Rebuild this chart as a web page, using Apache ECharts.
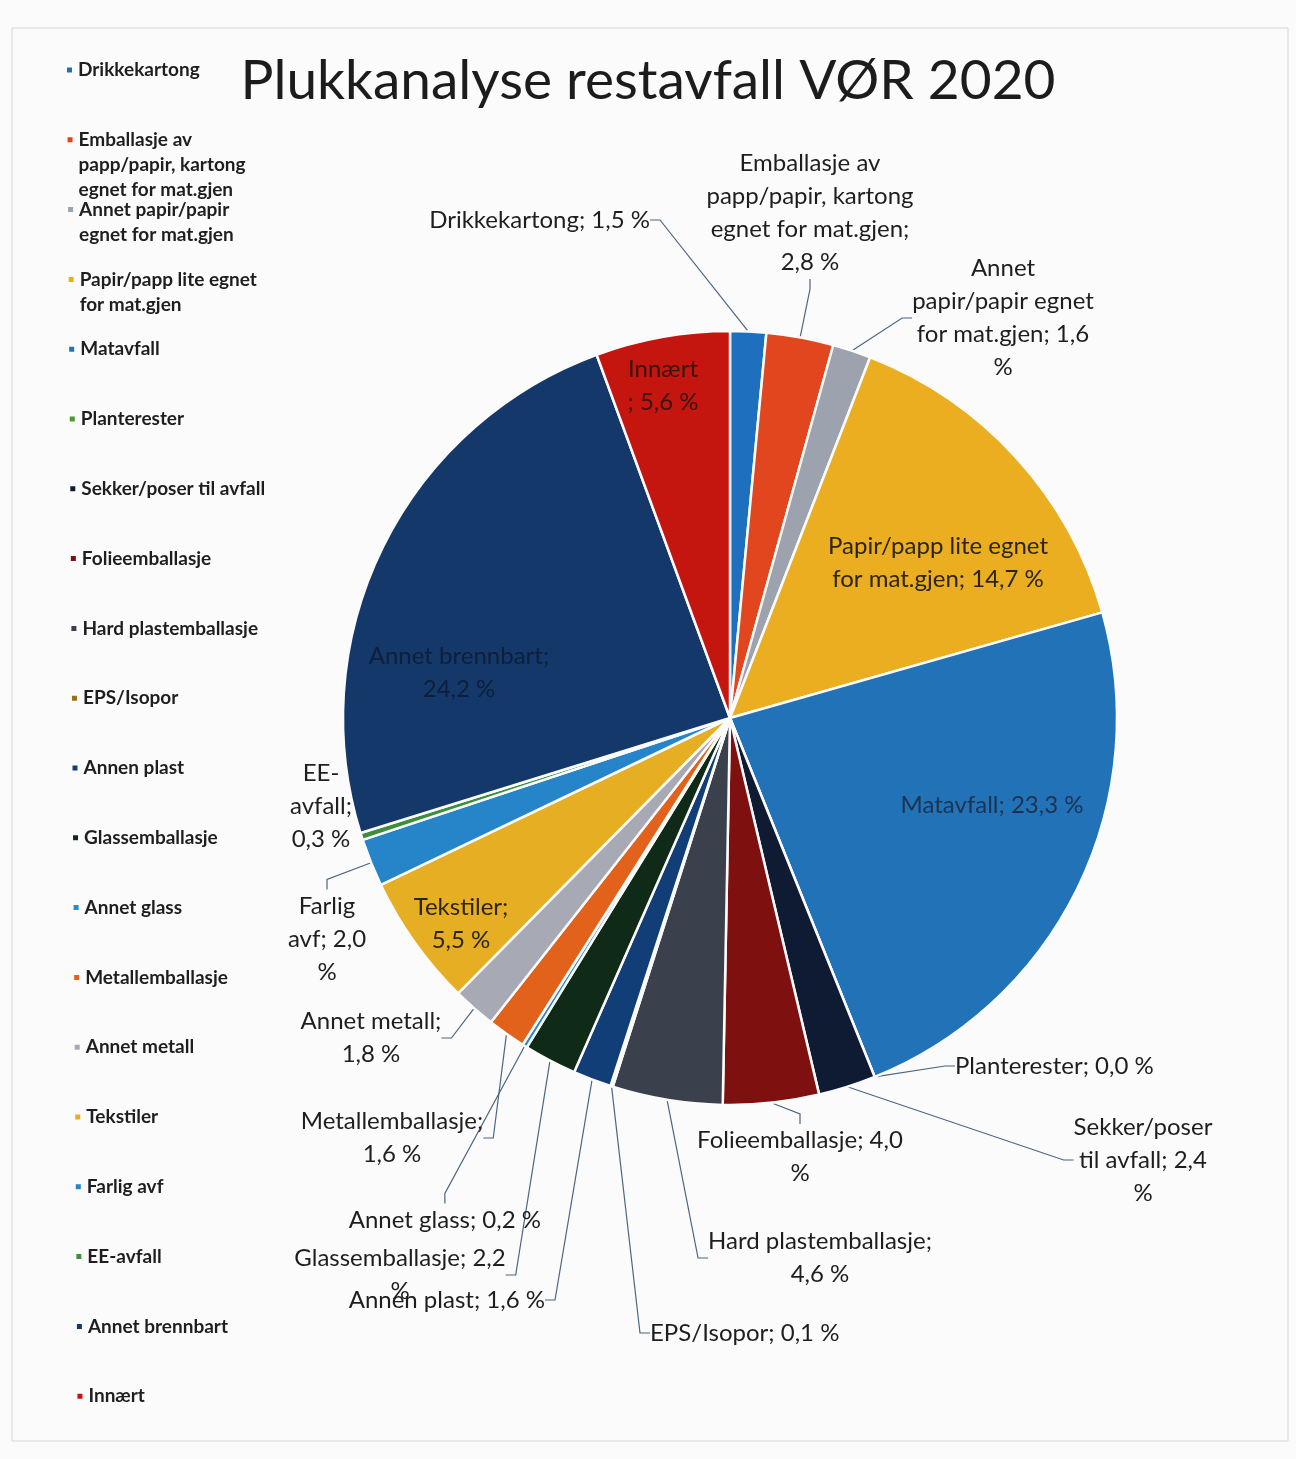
<!DOCTYPE html>
<html>
<head>
<meta charset="utf-8">
<script src="https://cdn.jsdelivr.net/npm/echarts@6/dist/echarts.min.js"></script>
<style>
  html, body { margin: 0; padding: 0; background: #fbfbfb; }
  #chart { width: 1296px; height: 1459px; }
</style>
</head>
<body>
<div id="chart"></div>
<script>
  // categories, clockwise from 12 o'clock
  const names = [
    'Drikkekartong',
    'Emballasje av papp/papir, kartong egnet for mat.gjen',
    'Annet papir/papir egnet for mat.gjen',
    'Papir/papp lite egnet for mat.gjen',
    'Matavfall',
    'Planterester',
    'Sekker/poser til avfall',
    'Folieemballasje',
    'Hard plastemballasje',
    'EPS/Isopor',
    'Annen plast',
    'Glassemballasje',
    'Annet glass',
    'Metallemballasje',
    'Annet metall',
    'Tekstiler',
    'Farlig avf',
    'EE-avfall',
    'Annet brennbart',
    'Innært'
  ];
  // percent
  const values = [1.5, 2.8, 1.6, 14.7, 23.3, 0.0, 2.4, 4.0, 4.6, 0.1,
                  1.6, 2.2, 0.2, 1.6, 1.8, 5.5, 2.0, 0.3, 24.2, 5.6];

  // legend text as wrapped in the picture
  const legendText = [
    'Drikkekartong',
    'Emballasje av\npapp/papir, kartong\negnet for mat.gjen',
    'Annet papir/papir\negnet for mat.gjen',
    'Papir/papp lite egnet\nfor mat.gjen',
    'Matavfall', 'Planterester', 'Sekker/poser til avfall', 'Folieemballasje',
    'Hard plastemballasje', 'EPS/Isopor', 'Annen plast', 'Glassemballasje',
    'Annet glass', 'Metallemballasje', 'Annet metall', 'Tekstiler',
    'Farlig avf', 'EE-avfall', 'Annet brennbart', 'Innært'
  ];

  // data label text, {v} is the value
  const labelText = [
    'Drikkekartong; {v} %',
    'Emballasje av\npapp/papir, kartong\negnet for mat.gjen;\n{v} %',
    'Annet\npapir/papir egnet\nfor mat.gjen; {v}\n%',
    'Papir/papp lite egnet\nfor mat.gjen; {v} %',
    'Matavfall; {v} %',
    'Planterester; {v} %',
    'Sekker/poser\ntil avfall; {v}\n%',
    'Folieemballasje; {v}\n%',
    'Hard plastemballasje;\n{v} %',
    'EPS/Isopor; {v} %',
    'Annen plast; {v} %',
    'Glassemballasje; {v}\n%',
    'Annet glass; {v} %',
    'Metallemballasje;\n{v} %',
    'Annet metall;\n{v} %',
    'Tekstiler;\n{v} %',
    'Farlig\navf; {v}\n%',
    'EE-\navfall;\n{v} %',
    'Annet brennbart;\n{v} %',
    'Innært\n; {v} %'
  ];

  const colors = ['#1F6FBF', '#E2461F', '#9DA3AE', '#EBAE20', '#2272B8', '#4A9A3A',
                  '#0E1B33', '#7E1010', '#3B414C', '#9A6E1A', '#123E78', '#102A18',
                  '#2A8ACB', '#E2621C', '#A7AAB5', '#E6AE22', '#2585C8', '#3E8E3E',
                  '#15386A', '#C4150F'];

  // label placement [x, y, align], inside labels have no leader line
  const labelPos = [
    [650, 220, 'right'], [810, 213, 'center'], [1003, 318, 'center'], [938, 563, 'center'],
    [992, 805, 'center'], [955, 1066, 'left'], [1143, 1160, 'center'], [800, 1157, 'center'],
    [820, 1258, 'center'], [650, 1333, 'left'], [545, 1300, 'right'], [400, 1275, 'center'],
    [541, 1220, 'right'], [392, 1138, 'center'], [371, 1038, 'center'], [461, 924, 'center'],
    [327, 939, 'center'], [321, 806, 'center'], [459, 673, 'center'], [663, 386, 'center']
  ];
  const insideLabel = {3: '#2b2410', 4: '#1b3350', 15: '#2b2410', 18: '#0e1f3a', 19: '#3a140e'};

  const FONT = 'Lato, "Open Sans", sans-serif';
  const SQ = 7;        // legend marker size
  const LEG_LH = 25;   // legend line height

  const fmt = (v) => v.toFixed(1).replace('.', ',');

  const seriesData = names.map((n, i) => {
    const item = { name: n, value: values[i], itemStyle: { color: colors[i] } };
    if (insideLabel[i]) {
      item.label = { color: insideLabel[i] };
      item.labelLine = { show: false };
    }
    return item;
  });

  // one legend per entry; for wrapped entries the marker sits on the first line
  const legends = names.map((n, i) => {
    const lines = legendText[i].split('\n').length;
    const h = SQ + (lines - 1) * LEG_LH;
    const icon = lines > 1
      ? 'path://M0,0h1v1h-1z M0,' + (h / SQ).toFixed(4) + 'l1,0'
      : 'rect';
    return {
      data: [n],
      left: 65 + i * 0.55,
      top: 70 + i * 69.8 - 12.5,
      padding: 0,
      icon: icon,
      itemWidth: SQ,
      itemHeight: h,
      selectedMode: false,
      formatter: () => legendText[i],
      textStyle: {
        fontFamily: FONT,
        fontWeight: 'bold',
        fontSize: 19,
        lineHeight: LEG_LH,
        color: '#1e1e1e'
      }
    };
  });

  const chart = echarts.init(document.getElementById('chart'));
  chart.setOption({
    backgroundColor: '#fbfbfb',
    animation: false,
    title: {
      text: 'Plukkanalyse restavfall VØR 2020',
      left: 'center',
      top: 49,
      textStyle: { fontFamily: FONT, fontSize: 55, fontWeight: 'normal', color: '#1c1c1c' }
    },
    legend: legends,
    graphic: [{
      type: 'rect',
      shape: { x: 12, y: 28, width: 1276, height: 1413 },
      style: { fill: 'none', stroke: '#d6d6d6', lineWidth: 1 }
    }],
    series: [{
      type: 'pie',
      center: [730, 718],
      radius: 387,
      startAngle: 90,
      clockwise: true,
      avoidLabelOverlap: false,
      minShowLabelAngle: 0,
      itemStyle: { borderColor: '#fbfbfb', borderWidth: 2.5 },
      label: {
        show: true,
        position: 'outside',
        fontFamily: FONT,
        fontSize: 24,
        lineHeight: 33,
        color: '#1e1e1e',
        formatter: (p) => labelText[p.dataIndex].replace('{v}', fmt(p.value))
      },
      labelLine: {
        show: true,
        length: 10,
        length2: 10,
        lineStyle: { color: '#4c6580', width: 1.2 }
      },
      labelLayout: (params) => {
        const p = labelPos[params.dataIndex];
        return { x: p[0], y: p[1], align: p[2], verticalAlign: 'middle' };
      },
      data: seriesData
    }]
  });
</script>
</body>
</html>
